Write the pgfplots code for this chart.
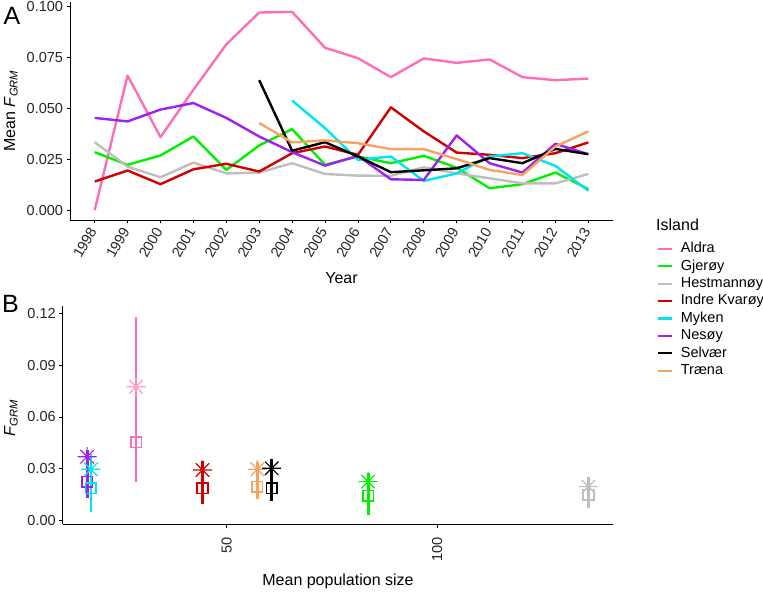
\documentclass[border=0pt]{standalone}
\usepackage{fontspec}
\setmainfont{Liberation Sans}
\usepackage{pgfplots}
\pgfplotsset{compat=1.18}

\definecolor{aldra}{HTML}{FF6EB4}
\definecolor{gjeroy}{HTML}{00F000}
\definecolor{hestm}{HTML}{BEBEBE}
\definecolor{indre}{HTML}{D40000}
\definecolor{myken}{HTML}{00E5EE}
\definecolor{nesoy}{HTML}{A020F0}
\definecolor{selvaer}{HTML}{000000}
\definecolor{traena}{HTML}{F4A460}

% 8-armed asterisk, like R's pch 8
\pgfdeclareplotmark{ast8}{%
  \pgfpathmoveto{\pgfqpoint{-\pgfplotmarksize}{0pt}}%
  \pgfpathlineto{\pgfqpoint{\pgfplotmarksize}{0pt}}%
  \pgfpathmoveto{\pgfqpoint{0pt}{-\pgfplotmarksize}}%
  \pgfpathlineto{\pgfqpoint{0pt}{\pgfplotmarksize}}%
  \pgfpathmoveto{\pgfqpoint{-.707\pgfplotmarksize}{-.707\pgfplotmarksize}}%
  \pgfpathlineto{\pgfqpoint{.707\pgfplotmarksize}{.707\pgfplotmarksize}}%
  \pgfpathmoveto{\pgfqpoint{-.707\pgfplotmarksize}{.707\pgfplotmarksize}}%
  \pgfpathlineto{\pgfqpoint{.707\pgfplotmarksize}{-.707\pgfplotmarksize}}%
  \pgfusepathqstroke}

\pgfplotsset{
  ggclassic/.style={
    scale only axis,
    anchor=south west,
    axis lines=left,
    axis line style={-, line width=0.9pt},
    tick align=outside,
    major tick length=3.5pt,
    tick style={line width=0.9pt, black},
    ticklabel style={font=\fontsize{14.5}{16}\selectfont, text=black!85},
    /pgf/number format/assume math mode=true,
    scaled ticks=false,
    clip=false,
  },
  ebar/.style={line width=2.8pt},
  sqm/.style={only marks, mark=square, mark size=5.3pt, mark options={line width=1.6pt}},
  stm/.style={only marks, mark=ast8, mark size=9.5pt, mark options={line width=1.2pt}},
}

\begin{document}
\begin{tikzpicture}[x=1pt,y=1pt]
\useasboundingbox (0,0) rectangle (763,594);

% ---------- panel A ----------
\begin{axis}[ggclassic,
  at={(70pt,374pt)}, width=543pt, height=218pt,
  xmin=1997.25, xmax=2013.75, ymin=-0.00486, ymax=0.10206,
  xtick={1998,1999,2000,2001,2002,2003,2004,2005,2006,2007,2008,2009,2010,2011,2012,2013},
  ytick={0,0.025,0.05,0.075,0.1},
  xticklabel style={rotate=60, anchor=east, /pgf/number format/1000 sep={}},
  xticklabel shift=2pt,
  yticklabel style={/pgf/number format/fixed, /pgf/number format/fixed zerofill,
    /pgf/number format/precision=3},
  every axis plot/.append style={line width=2.4pt, line join=round},
  legend cell align=left,
  legend image code/.code={\draw[#1, line width=2.2pt] (0pt,0pt) -- (14pt,0pt);},
  legend style={at={(axis description cs:1.0805,-0.095)}, anchor=north west,
    draw=none, fill=none, inner sep=0pt, outer sep=0pt, row sep=0.9pt, column sep=7pt,
    font=\fontsize{14.5}{16}\selectfont,
    nodes={inner sep=1pt, text height=11pt, text depth=3.5pt}},
]
\addplot[aldra] coordinates {(1998,0.000) (1999,0.0660) (2000,0.0358) (2001,0.0590)
  (2002,0.0813) (2003,0.0969) (2004,0.0972) (2005,0.0796) (2006,0.0745) (2007,0.0652)
  (2008,0.0744) (2009,0.0722) (2010,0.0739) (2011,0.0652) (2012,0.0637) (2013,0.0645)};
\addlegendentry{Aldra}
\addplot[gjeroy] coordinates {(1998,0.0284) (1999,0.0222) (2000,0.0268) (2001,0.0361)
  (2002,0.0197) (2003,0.0317) (2004,0.0397) (2005,0.0222) (2006,0.0263) (2007,0.0230)
  (2008,0.0266) (2009,0.0208) (2010,0.0107) (2011,0.0127) (2012,0.0184) (2013,0.0103)};
\addlegendentry{Gjerøy}
\addplot[hestm] coordinates {(1998,0.0333) (1999,0.0213) (2000,0.0161) (2001,0.0233)
  (2002,0.0180) (2003,0.0184) (2004,0.0230) (2005,0.0177) (2006,0.0169) (2007,0.0168)
  (2008,0.0210) (2009,0.0180) (2010,0.0156) (2011,0.0131) (2012,0.0131) (2013,0.0177)};
\addlegendentry{Hestmannøy}
\addplot[indre] coordinates {(1998,0.0140) (1999,0.0194) (2000,0.0127) (2001,0.0200)
  (2002,0.0227) (2003,0.0189) (2004,0.0279) (2005,0.0312) (2006,0.0271) (2007,0.0504)
  (2008,0.0386) (2009,0.0282) (2010,0.0271) (2011,0.0255) (2012,0.0279) (2013,0.0332)};
\addlegendentry{Indre Kvarøy}
\addplot[myken] coordinates {(2004,0.0537) (2005,0.0402) (2006,0.0246) (2007,0.0263)
  (2008,0.0143) (2009,0.0180) (2010,0.0263) (2011,0.0279) (2012,0.0217) (2013,0.0095)};
\addlegendentry{Myken}
\addplot[nesoy] coordinates {(1998,0.0452) (1999,0.0435) (2000,0.0493) (2001,0.0525)
  (2002,0.0452) (2003,0.0361) (2004,0.0284) (2005,0.0218) (2006,0.0266) (2007,0.0151)
  (2008,0.0148) (2009,0.0366) (2010,0.0230) (2011,0.0184) (2012,0.0325) (2013,0.0274)};
\addlegendentry{Nesøy}
\addplot[selvaer] coordinates {(2003,0.0637) (2004,0.0291) (2005,0.0333) (2006,0.0263)
  (2007,0.0186) (2008,0.0195) (2009,0.0205) (2010,0.0255) (2011,0.0230) (2012,0.0300)
  (2013,0.0274)};
\addlegendentry{Selvær}
\addplot[traena] coordinates {(2003,0.0427) (2004,0.0332) (2005,0.0342) (2006,0.0328)
  (2007,0.0299) (2008,0.0299) (2009,0.0250) (2010,0.0197) (2011,0.0172) (2012,0.0312)
  (2013,0.0386)};
\addlegendentry{Træna}
\end{axis}

% ---------- panel B ----------
\begin{axis}[ggclassic,
  at={(62.7pt,69.7pt)}, width=550.6pt, height=218.3pt,
  xmin=11.1, xmax=141.8, ymin=-0.0021, ymax=0.1242,
  xtick={50,100}, ytick={0,0.03,0.06,0.09,0.12},
  xticklabel style={rotate=90, anchor=east},
  xticklabel shift=6pt,
  yticklabel style={/pgf/number format/fixed, /pgf/number format/fixed zerofill,
    /pgf/number format/precision=2},
]
% Nesøy
\addplot[nesoy, ebar] coordinates {(16.9,0.0130) (16.9,0.0410)};
\addplot[nesoy, sqm] coordinates {(16.9,0.0224)};
\addplot[nesoy, stm] coordinates {(16.9,0.0370)};
% Myken
\addplot[myken, ebar] coordinates {(17.8,0.0052) (17.8,0.0385)};
\addplot[myken, sqm] coordinates {(17.8,0.0187)};
\addplot[myken, stm] coordinates {(17.8,0.0297)};
% Aldra
\addplot[aldra, ebar] coordinates {(28.5,0.0226) (28.5,0.1180)};
\addplot[aldra, sqm] coordinates {(28.5,0.0454)};
\addplot[aldra!70, stm] coordinates {(28.5,0.0775)};
% Indre Kvarøy
\addplot[indre, ebar] coordinates {(44.3,0.0097) (44.3,0.0345)};
\addplot[indre, sqm] coordinates {(44.3,0.0187)};
\addplot[indre, stm] coordinates {(44.3,0.0293)};
% Træna
\addplot[traena, ebar] coordinates {(57.3,0.0124) (57.3,0.0340)};
\addplot[traena, sqm] coordinates {(57.3,0.0197)};
\addplot[traena, stm] coordinates {(57.3,0.0297)};
% Selvær
\addplot[selvaer, ebar] coordinates {(60.7,0.0116) (60.7,0.0357)};
\addplot[selvaer, sqm] coordinates {(60.7,0.0187)};
\addplot[selvaer, stm] coordinates {(60.7,0.0303)};
% Gjerøy
\addplot[gjeroy, ebar] coordinates {(83.6,0.0033) (83.6,0.0274)};
\addplot[gjeroy, sqm] coordinates {(83.6,0.0143)};
\addplot[gjeroy, stm] coordinates {(83.6,0.0226)};
% Hestmannøy
\addplot[hestm, ebar] coordinates {(135.9,0.0072) (135.9,0.0255)};
\addplot[hestm, sqm] coordinates {(135.9,0.0149)};
\addplot[hestm, stm] coordinates {(135.9,0.0197)};
\end{axis}

% ---------- titles, labels, tags ----------
\begin{scope}[every node/.style={inner sep=0pt}]
\node[font=\fontsize{25}{28}\selectfont] at (12,578) {A};
\node[font=\fontsize{25}{28}\selectfont] at (10.5,290) {B};
\node[font=\fontsize{16}{18}\selectfont] at (341.5,316) {Year};
\node[font=\fontsize{16}{18}\selectfont] at (338,12.3) {Mean population size};
\node[font=\fontsize{16}{18}\selectfont, rotate=90] at (11,483)
  {Mean \textit{F}\textsubscript{\textit{GRM}}};
\node[font=\fontsize{16}{18}\selectfont, rotate=90] at (11,176)
  {\textit{F}\textsubscript{\textit{GRM}}};
\node[font=\fontsize{16}{18}\selectfont, anchor=base west] at (656,363.3) {Island};
\end{scope}
\end{tikzpicture}
\end{document}
